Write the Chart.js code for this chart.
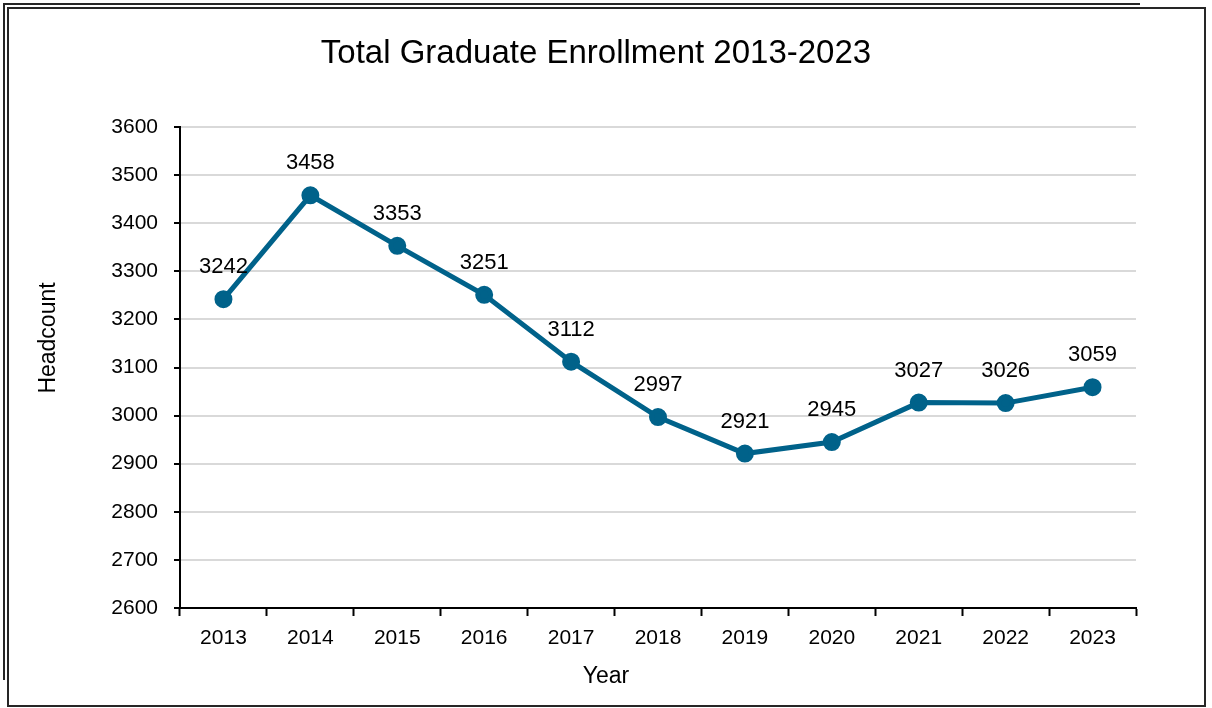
<!DOCTYPE html>
<html>
<head>
<meta charset="utf-8">
<script src="https://cdn.jsdelivr.net/npm/chart.js@4.4.1/dist/chart.umd.min.js"></script>
<style>
  html, body { margin: 0; padding: 0; background: #fff; }
  #wrap { position: relative; width: 1212px; height: 708px; overflow: hidden; }
  #c { position: absolute; left: 0; top: 0; }
  .ln { position: absolute; background: #262626; }
</style>
</head>
<body>
<div id="wrap">
  <canvas id="c" width="1212" height="708"></canvas>
  <!-- frame lines -->
  <div class="ln" style="left:3px;top:3px;width:1137px;height:2px"></div>
  <div class="ln" style="left:3px;top:3px;width:2px;height:677px"></div>
  <div class="ln" style="left:7px;top:7px;width:1199px;height:2px"></div>
  <div class="ln" style="left:7px;top:7px;width:2px;height:700px"></div>
  <div class="ln" style="left:1204px;top:7px;width:2px;height:700px"></div>
  <div class="ln" style="left:7px;top:705px;width:1199px;height:2px"></div>
</div>
<script>
var years = ["2013", "2014", "2015", "2016", "2017", "2018", "2019", "2020", "2021", "2022", "2023"];
var headcount = [3242, 3458, 3353, 3251, 3112, 2997, 2921, 2945, 3027, 3026, 3059];
var yMin = 2600;
var yMax = 3600;
var yStep = 100;

var fontName = "'Liberation Sans', Arial, sans-serif";

// title, axis titles and labels above each point (placed like the Excel original)
var textBits = {
  id: 'textBits',
  afterDatasetsDraw: function(chart) {
    var ctx = chart.ctx;
    var meta = chart.getDatasetMeta(0);
    ctx.save();
    ctx.fillStyle = '#000';
    ctx.textAlign = 'center';
    ctx.textBaseline = 'middle';
    ctx.font = '22px ' + fontName;
    meta.data.forEach(function(pt, i) {
      ctx.fillText(headcount[i], pt.x, pt.y - 32);
    });
    ctx.font = '33px ' + fontName;
    ctx.fillText('Total Graduate Enrollment 2013-2023', 596, 54);
    ctx.font = '23px ' + fontName;
    ctx.fillText('Year', 606, 677);
    ctx.translate(49, 338);
    ctx.rotate(-Math.PI / 2);
    ctx.fillText('Headcount', 0, 0);
    ctx.restore();
  }
};

var enrollChart = new Chart(document.getElementById("c"), {
  type: 'line',
  data: {
    labels: years,
    datasets: [{
      label: 'Headcount',
      data: headcount,
      borderColor: '#00628a',
      backgroundColor: '#00628a',
      borderWidth: 5,
      pointRadius: 6.5,
      pointHoverRadius: 6.5,
      tension: 0
    }]
  },
  options: {
    responsive: false,
    animation: false,
    layout: { padding: { top: 127, right: 76, bottom: 60, left: 30 } },
    plugins: {
      legend: { display: false },
      tooltip: { enabled: false },
      title: { display: false }
    },
    scales: {
      x: {
        offset: true,
        afterFit: function(scale) { scale.height = 40; },
        grid: {
          offset: true,
          drawOnChartArea: false,
          drawTicks: true,
          tickLength: 8,
          tickColor: '#000',
          tickWidth: 2
        },
        border: { display: true, color: '#000', width: 2 },
        ticks: {
          color: '#000',
          padding: 10,
          maxRotation: 0,
          font: { family: fontName, size: 21 }
        }
      },
      y: {
        min: yMin,
        max: yMax,
        afterFit: function(scale) { scale.width = 150; },
        grid: {
          color: '#d9d9d9',
          lineWidth: 2,
          tickColor: '#000',
          tickWidth: 2,
          tickLength: 6,
          drawTicks: true
        },
        border: { display: true, color: '#000', width: 2 },
        ticks: {
          stepSize: yStep,
          color: '#000',
          padding: 16,
          font: { family: fontName, size: 21 },
          callback: function(v) { return String(v); }
        }
      }
    }
  },
  plugins: [textBits]
});
</script>
</body>
</html>
